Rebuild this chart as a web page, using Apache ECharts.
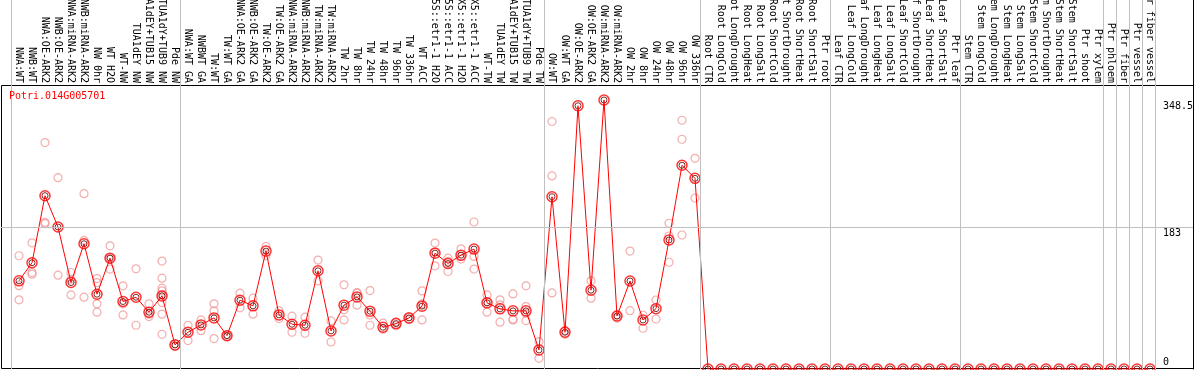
<!DOCTYPE html>
<html>
<head>
<meta charset="utf-8">
<script src="https://cdn.jsdelivr.net/npm/echarts@6/dist/echarts.min.js"></script>
<style>
  html, body { margin: 0; padding: 0; background: #fff; }
  #echart { width: 1194px; height: 370px; }
</style>
</head>
<body>
<div id="echart"></div>
<script>
const geneName = 'Potri.014G005701';

const sampleLabels = [
    'NWA:WT', 'NWB:WT', 'NWA:OE-ARK2', 'NWB:OE-ARK2', 'NWA:miRNA-ARK2', 'NWB:miRNA-ARK2', 'NW 0hr', 'WT H2O', 'WT-NW',
    'TUA1dEY NW', 'TUA1dEY+TUB15 NW', 'TUA1dY+TUB9 NW', 'Pde NW',
    'NWA:WT GA', 'NWBWT GA', 'TW:WT', 'TW:WT GA', 'NWA:OE-ARK2 GA', 'NWB:OE-ARK2 GA', 'TW:OE-ARK2', 'TW:OE-ARK2 GA',
    'NWA:miRNA-ARK2', 'NWB:miRNA-ARK2', 'TW:miRNA-ARK2', 'TW:miRNA-ARK2', 'TW 2hr', 'TW 8hr', 'TW 24hr', 'TW 48hr',
    'TW 96hr', 'TW 336hr', 'WT ACC', '35S::etr1-1 H2O', '35S::etr1-1 ACC', 'LMX5::etr1-1 H2O', 'LMX5::etr1-1 ACC',
    'WT-TW', 'TUA1dEY TW', 'TUA1dEY+TUB15 TW', 'TUA1dY+TUB9 TW', 'Pde TW',
    'OW:WT', 'OW:WT GA', 'OW:OE-ARK2', 'OW:OE-ARK2 GA', 'OW:miRNA-ARK2', 'OW:miRNA-ARK2', 'OW 2hr', 'OW 8hr',
    'OW 24hr', 'OW 48hr', 'OW 96hr', 'OW 336hr',
    'Root CTR', 'Root LongCold', 'Root LongDrought', 'Root LongHeat', 'Root LongSalt', 'Root ShortCold',
    'Root ShortDrought', 'Root ShortHeat', 'Root ShortSalt', 'Ptr root',
    'Leaf CTR', 'Leaf LongCold', 'Leaf LongDrought', 'Leaf LongHeat', 'Leaf LongSalt', 'Leaf ShortCold',
    'Leaf ShortDrought', 'Leaf ShortHeat', 'Leaf ShortSalt', 'Ptr leaf',
    'Stem CTR', 'Stem LongCold', 'Stem LongDrought', 'Stem LongHeat', 'Stem LongSalt', 'Stem ShortCold',
    'Stem ShortDrought', 'Stem ShortHeat', 'Stem ShortSalt', 'Ptr shoot', 'Ptr xylem',
    'Ptr phloem', 'Ptr fiber', 'Ptr vessel', 'Ptr fiber vessel'
];

// number of samples in each block between the grey separators
const groupSizes = [13, 28, 12, 10, 10, 11, 1, 1, 1, 1];

const meanValues = [
    114.2, 137.6, 224.5, 183.9, 112.0, 162.2, 96.9, 143.6, 87.4, 93.0, 73.6, 94.7, 31.2,
    47.6, 57.1, 66.2, 43.2, 89.1, 81.8, 152.7, 70.1, 58.0, 56.7, 127.2, 49.3, 82.7, 93.4, 74.9, 54.1,
    58.8, 66.2, 81.4, 150.1, 136.7, 147.5, 155.3, 85.7, 77.9, 75.3, 75.3, 24.7,
    223.2, 47.6, 341.0, 102.1, 348.5, 68.6, 114.0, 63.5, 78.2, 167.1, 263.9, 247.0,
    0, 0, 0, 0, 0, 0, 0, 0, 0, 0,
    0, 0, 0, 0, 0, 0, 0, 0, 0, 0,
    0, 0, 0, 0, 0, 0, 0, 0, 0, 0, 0,
    0, 0, 0, 0
];

const replicateValues = [
    [146.7, 108, 89.6], [163.5, 125, 122.9], [293.3, 189.9, 188.2], [247.9, 121.6], [125, 116.4, 96],
    [227.1, 166.5, 93], [117.2, 112, 84.4, 73.6], [159.6, 143, 129.4], [107.7, 84.4, 70.1], [129.8, 56.7],
    [84.4, 71, 67.9], [139.8, 117.7, 104.7, 101.2, 96, 86, 71, 45], [33, 29],
    [56.7, 36.8], [63.6, 49.7], [84.4, 75.3, 39.4], [44, 42], [98.2, 79.2], [91.7, 71], [158.8, 146.7],
    [75.3, 65.3], [68.4, 47.6], [67.1, 46.3], [141.1, 114.2], [62.3, 35], [109, 76.6, 63.6], [98.2, 82.7, 99],
    [101.6, 70.1, 56.7], [59.3, 51.5], [61, 56], [68, 64], [101.2, 84.4, 63.6], [163.1, 151.8, 133.7],
    [143.6, 139.3, 126.3], [155.7, 145.8, 142.4], [190.4, 145.8, 129.4], [96, 87, 73.6], [89.6, 83.1, 60.6],
    [97.3, 64.5, 63.6], [107.7, 80.9, 72.3, 62.7], [35.5, 13.8],
    [320.6, 250.1, 98.6], [50, 45], [], [114.2, 91.7], [], [70, 66], [152.7, 75.6], [69.6, 52.8],
    [89.4, 64.8], [188.8, 172.3, 138.3], [322.2, 297.6, 173.6], [272.9, 221.5],
    [], [], [], [], [], [], [], [], [], [],
    [], [], [], [], [], [], [], [], [], [],
    [], [], [], [], [], [], [], [], [], [], [],
    [], [], [], []
];

const yTickValues = [0, 183, 348.5];
const refLineValue = 183;

const FONT = 'DejaVu Sans Mono';
// 13px per sample, first sample 18px right of the plot edge
const X_MIN = -18 / 13;
const X_MAX = X_MIN + 1192 / 13;

const sepPositions = [];
let start = 0;
sepPositions.push(start - 7.5 / 13);
groupSizes.forEach(function (n) {
    start += n;
    sepPositions.push(start - 7.5 / 13);
});

const meanData = meanValues.map(function (v, i) { return [i, v]; });
const repData = [];
replicateValues.forEach(function (list, i) {
    list.forEach(function (v) { repData.push([i, v]); });
});

const chart = echarts.init(document.getElementById('echart'));

const option = {
    animation: false,
    title: {
        text: geneName,
        left: 9,
        top: 91,
        padding: 0,
        textStyle: { color: '#ff0000', fontFamily: FONT, fontSize: 10, fontWeight: 'normal' }
    },
    grid: [
        { left: 1, top: 0, width: 1192, height: 369, show: false, outerBoundsMode: 'none', containLabel: false },
        { left: 1.5, top: 85.5, width: 1192, height: 283, show: true, borderColor: '#000', borderWidth: 1,
          outerBoundsMode: 'none', containLabel: false }
    ],
    xAxis: [{
        gridIndex: 0,
        type: 'value',
        min: X_MIN,
        max: X_MAX,
        position: 'top',
        offset: -85,
        axisLine: { show: false, onZero: false },
        axisTick: { show: false },
        splitLine: { show: false },
        axisLabel: {
            customValues: sampleLabels.map(function (_, i) { return i; }),
            formatter: function (v) { return sampleLabels[v]; },
            rotate: 90,
            margin: 2,
            color: '#000',
            fontFamily: FONT,
            fontSize: 10
        }
    }, {
        gridIndex: 1, type: 'value', min: 0, max: 1, show: false
    }],
    yAxis: [{
        gridIndex: 0,
        type: 'value',
        min: 0,
        max: 478,
        position: 'right',
        axisLine: { show: true, onZero: false, lineStyle: { color: '#000', width: 1 } },
        axisTick: { show: false },
        splitLine: { show: false },
        axisLabel: {
            customValues: yTickValues,
            inside: true,
            margin: 30,
            align: 'left',
            color: '#000',
            formatter: function (v) { return v === 0 ? '{lo|' + v + '}' : '{hi|' + v + '}'; },
            rich: {
                hi: { fontFamily: FONT, fontSize: 10, lineHeight: 12, padding: [12, 0, 0, 0], color: '#000' },
                lo: { fontFamily: FONT, fontSize: 10, lineHeight: 12, padding: [0, 0, 14, 0], color: '#000' }
            }
        }
    }, {
        gridIndex: 1, type: 'value', min: 0, max: 1, show: false
    }],
    series: [{
        name: 'replicates',
        type: 'scatter',
        xAxisIndex: 0,
        yAxisIndex: 0,
        data: repData,
        symbol: 'circle',
        symbolSize: 8,
        silent: true,
        clip: false,
        itemStyle: { color: 'transparent', borderColor: '#f09a9a', borderWidth: 1.2 }
    }, {
        name: 'mean',
        type: 'line',
        xAxisIndex: 0,
        yAxisIndex: 0,
        data: meanData,
        showSymbol: false,
        silent: true,
        lineStyle: { color: '#ff0000', width: 1 },
        markLine: {
            silent: true,
            symbol: ['none', 'none'],
            label: { show: false },
            lineStyle: { color: '#c0c0c0', width: 1, type: 'solid' },
            data: sepPositions.map(function (x) { return { xAxis: x }; }).concat([{ yAxis: refLineValue }])
        }
    }, {
        name: 'mean ring',
        type: 'scatter',
        xAxisIndex: 0,
        yAxisIndex: 0,
        data: meanData,
        symbol: 'circle',
        symbolSize: 10,
        silent: true,
        clip: false,
        itemStyle: { color: 'transparent', borderColor: '#ff0000', borderWidth: 1.5 }
    }, {
        name: 'mean core',
        type: 'scatter',
        xAxisIndex: 0,
        yAxisIndex: 0,
        data: meanData,
        symbol: 'circle',
        symbolSize: 6,
        silent: true,
        clip: false,
        itemStyle: { color: 'transparent', borderColor: '#550000', borderWidth: 1 }
    }]
};

chart.setOption(option);
</script>
</body>
</html>
